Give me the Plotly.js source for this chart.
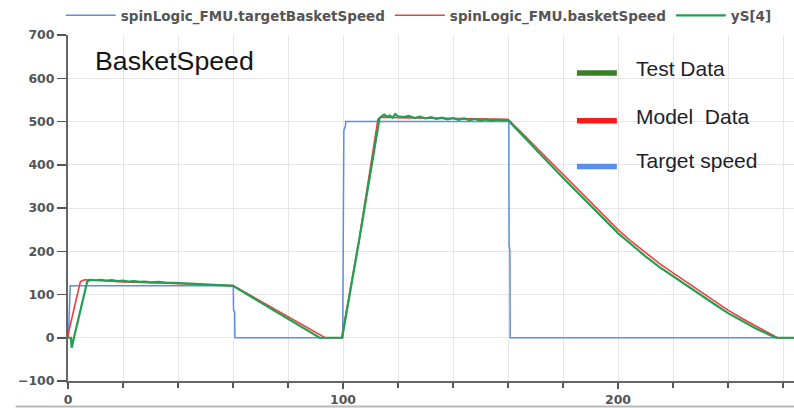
<!DOCTYPE html>
<html>
<head>
<meta charset="utf-8">
<script src="https://cdn.plot.ly/plotly-3.0.1.min.js"></script>
<style>html,body{margin:0;padding:0;background:#fff;}#chart{width:794px;height:408px;}</style>
</head>
<body>
<div id="chart"></div>
<script>
// ---- data (time in s, speed) ----
const targetTime  = [0, 0.3, 0.8, 60.1, 60.2, 60.6, 60.7, 99.9, 100.3, 100.9, 101, 160.3, 160.4, 160.7, 160.8, 264];
const targetSpeed = [0, 30, 120, 120, 64, 60, 0, 0, 479, 490, 500, 500, 215, 200, 0, 0];

const modelTime  = [0, 0.3, 4.5, 6, 10, 20, 30, 40, 50, 60, 65, 70, 75, 80, 85, 90, 93.5, 99.5, 106, 112.7, 114, 120, 130, 140, 150, 160,
                    165, 170, 175, 180, 185, 190, 195, 200, 205, 210, 215, 220, 225, 230, 235, 240, 245, 250, 255, 258, 264];
const modelSpeed = [0, 15, 130, 134, 133, 129, 127, 125, 123, 121, 103, 85, 67, 48, 30, 12, 0, 0, 232, 505, 510, 509, 508, 507, 505, 505,
                    474, 442, 410, 378, 346, 314, 282, 250, 222, 196, 172, 150, 128, 106, 85, 64, 45, 28, 12, 0, 0];

const testTime  = [0, 1.1, 1.3, 3, 5, 7, 8, 10, 12, 14, 16, 18, 20, 22, 24, 26, 28, 30, 33, 36, 39, 42, 45, 48, 51, 54, 57, 60,
                   65, 70, 75, 80, 85, 91.5, 95, 99.7, 106, 113.3,
                   114, 115, 116, 117, 118, 119, 120, 122, 124, 126, 128, 130, 132, 134, 136, 138, 140, 142, 144, 146, 148, 150, 152, 154, 156, 158, 160,
                   165, 170, 175, 180, 185, 190, 195, 200, 205, 210, 215, 220, 225, 230, 235, 240, 245, 250, 255, 257.5, 264];
const testSpeed = [0, 0, -23, 22, 78, 130, 134, 133, 134, 132, 133, 131, 132, 130, 131, 129, 130, 128, 129, 127, 127, 126, 125, 125, 123, 123, 121, 120,
                   101, 82, 63, 44, 25, 0, 0, 0, 230, 508,
                   512, 516, 511, 514, 509, 517, 512, 510, 513, 508, 511, 507, 510, 506, 509, 505, 508, 504, 507, 503, 506, 502, 505, 501, 504, 502, 503,
                   469, 436, 403, 370, 338, 306, 274, 242, 215, 188, 164, 142, 120, 99, 78, 57, 39, 22, 7, 0, 0];

const legendLabels = ["Test Data", "Model  Data", "Target speed"];
const legendColors = ["#3b7f24", "#ff1a1a", "#5b8def"];

const traces = [
  {x: targetTime, y: targetSpeed, type: 'scatter', mode: 'lines', name: 'spinLogic_FMU.targetBasketSpeed',
   line: {color: '#5a8fe3', width: 1.5}},
  {x: modelTime, y: modelSpeed, type: 'scatter', mode: 'lines', name: 'spinLogic_FMU.basketSpeed',
   line: {color: '#ee3e3e', width: 1.6}},
  {x: testTime, y: testSpeed, type: 'scatter', mode: 'lines', name: 'yS[4]',
   line: {color: '#22a052', width: 2.2}}
];

const tickFont = {family: 'DejaVu Sans', size: 12.5, color: '#555', weight: 'bold'};

// inner legend (drawn as annotations + shapes)
const innerY = [0.9035, 0.764, 0.637];
const barY = [0.8905, 0.752, 0.6196];
const annotations = [
  {xref: 'paper', yref: 'paper', x: 0.035, y: 0.925, xanchor: 'left', yanchor: 'middle', showarrow: false,
   text: 'BasketSpeed', font: {family: 'Liberation Sans, Arial', size: 26.7, color: '#151515'}}
];
const shapes = [
  {type: 'line', xref: 'paper', yref: 'paper', x0: -0.072, x1: 1.05, y0: -0.074, y1: -0.074, line: {color: '#b8b8b8', width: 2}}
];
legendLabels.forEach((lab, i) => {
  annotations.push({xref: 'paper', yref: 'paper', x: 0.78, y: innerY[i], xanchor: 'left', yanchor: 'middle', showarrow: false,
    text: lab, font: {family: 'Liberation Sans, Arial', size: 21, color: '#1e1e2a'}});
  shapes.push({type: 'line', xref: 'paper', yref: 'paper', x0: 0.701, x1: 0.756, y0: barY[i], y1: barY[i],
    line: {color: legendColors[i], width: 5.5}});
});

const layout = {
  width: 794, height: 408,
  margin: {l: 68, r: 0, t: 34, b: 27, pad: 0},
  paper_bgcolor: '#fff', plot_bgcolor: '#fff',
  showlegend: true,
  legend: {orientation: 'h', x: -0.01, xanchor: 'left', y: 1.055, yanchor: 'middle',
           font: {family: 'DejaVu Sans', size: 13.5, color: '#555', weight: 'bold'},
           bgcolor: 'rgba(0,0,0,0)', itemwidth: 50},
  xaxis: {range: [0, 264], dtick: 100, tick0: 0, showline: true, linecolor: '#666', linewidth: 2,
          ticks: 'outside', ticklen: 6, tickwidth: 1.5, tickcolor: '#555',
          showgrid: true, gridcolor: '#e6e6e6', zeroline: false, tickfont: tickFont,
          minor: {dtick: 20, tick0: 0, ticks: 'outside', ticklen: 5, tickwidth: 1.5, tickcolor: '#555', showgrid: true, gridcolor: '#e6e6e6'}},
  yaxis: {range: [-100, 700], dtick: 100, tick0: 0, showline: true, linecolor: '#666', linewidth: 2,
          ticks: 'outside', ticklen: 9, tickwidth: 1.5, tickcolor: '#555',
          showgrid: true, gridcolor: '#e6e6e6', zeroline: false, tickfont: tickFont},
  annotations: annotations,
  shapes: shapes
};

Plotly.newPlot('chart', traces, layout, {displayModeBar: false, staticPlot: true});
</script>
</body>
</html>
